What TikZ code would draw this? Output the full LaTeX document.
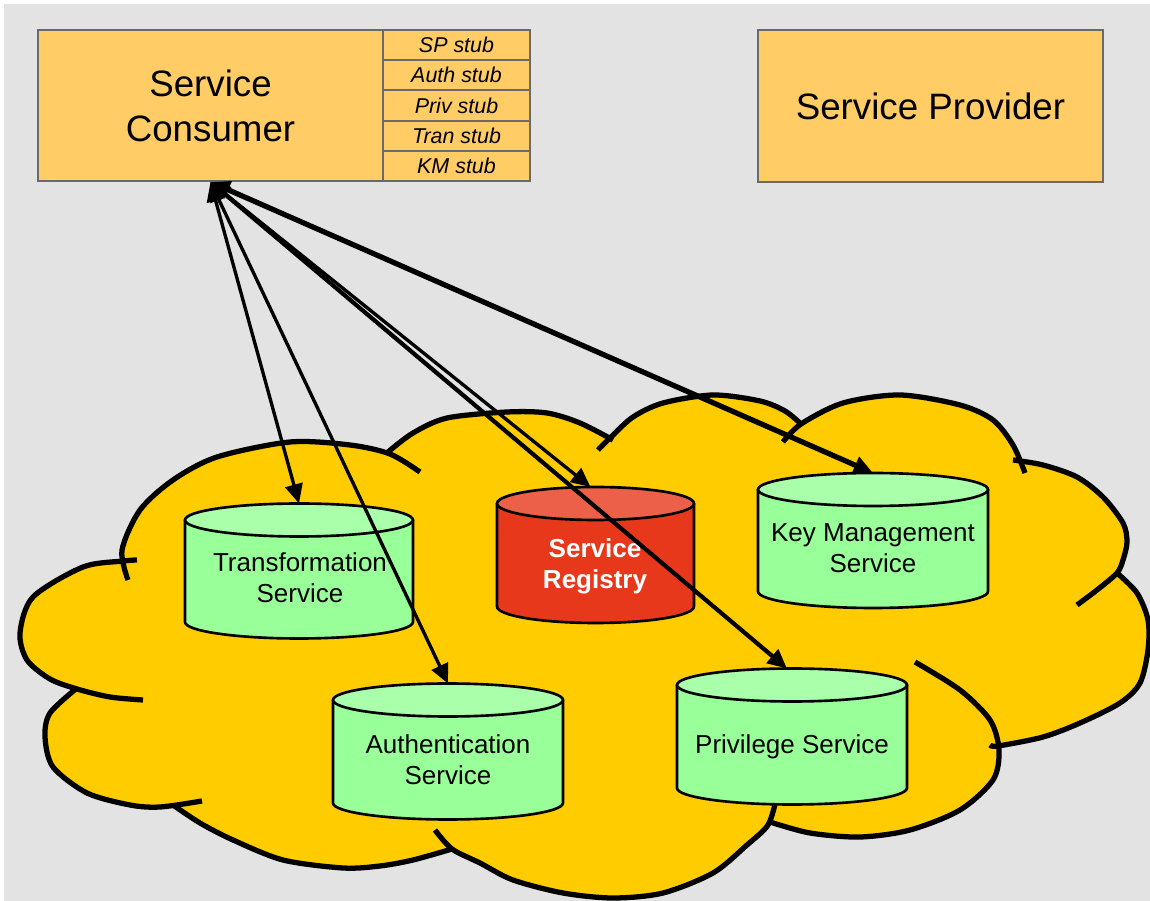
\documentclass[tikz,border=0pt]{standalone}
\usepackage{fontspec}
\setmainfont{Liberation Sans}
\usetikzlibrary{arrows.meta}
\definecolor{bggray}{HTML}{E3E3E3}
\definecolor{boxfill}{HTML}{FFCC66}
\definecolor{boxline}{HTML}{6A6A6A}
\definecolor{cloudfill}{HTML}{FFCC00}
\definecolor{greenbody}{HTML}{99FF99}
\definecolor{greentop}{HTML}{AAFFAA}
\definecolor{redbody}{HTML}{E8381C}
\definecolor{redtop}{HTML}{EC604A}
\newcommand\drawcyl[8]{%
  \fill[#7] ({#2-#5},#3) -- ({#2-#5},#4)
    arc[start angle=180,end angle=360,x radius=#5*0.5690pt,y radius=#6*0.5690pt]
    -- ({#2+#5},#3) -- cycle;
  \draw[cylline] ({#2-#5},#3) -- ({#2-#5},#4)
    arc[start angle=180,end angle=360,x radius=#5*0.5690pt,y radius=#6*0.5690pt]
    -- ({#2+#5},#3);
  \filldraw[fill=#8,cylline] (#2,#3) ellipse[x radius=#5*0.5690pt,y radius=#6*0.5690pt];
  \coordinate (#1-top) at (#2,{#3-#6});
}
\tikzset{
  mainbox/.style={draw=boxline,fill=boxfill,line width=1.2pt,inner sep=0pt,
    minimum width=6.9cm,align=center,font=\fontsize{20.9}{25.5}\selectfont},
  stubbox/.style={draw=boxline,fill=boxfill,line width=1.2pt,inner sep=0pt,
    minimum width=2.94cm,minimum height=0.604cm,font=\fontsize{12.2}{14}\selectfont\itshape},
  cylline/.style={line width=1.5pt,draw=black},
  cyltext/.style={align=center,inner sep=0pt,font=\fontsize{14.8}{17.8}\selectfont},
  cloudline/.style={line width=3pt,line cap=butt},
  conn/.style={draw=black,{Triangle[length=11pt,width=10pt]}-{Triangle[length=11pt,width=10pt]}},
}
\begin{document}
\begin{tikzpicture}[x=0.02cm,y=-0.02cm]
\useasboundingbox (0,0) rectangle (1150,901);
\fill[bggray] (4,4) rectangle (1150,901);

% boxes
\node[mainbox,minimum height=3.02cm] (cons) at (210.5,105.5) {Service\\Consumer};
\node[stubbox] (sp) at (456.5,45.1) {SP stub};
\node[stubbox] (auths) at (456.5,75.3) {Auth stub};
\node[stubbox] (privs) at (456.5,105.5) {Priv stub};
\node[stubbox] (trans) at (456.5,135.7) {Tran stub};
\node[stubbox] (kms) at (456.5,165.9) {KM stub};
\node[mainbox,minimum height=3.04cm] (prov) at (930.5,106) {Service Provider};

% cloud fill
\fill[cloudfill]
  plot[smooth] coordinates {(124,562) (122,548) (140,510) (173,480) (217,457) (290,442) (350,445) (388,452)}
  -- plot[smooth] coordinates {(388,452) (413,433) (447,418) (507,412) (547,413) (580,423) (611,437)}
  -- plot[smooth] coordinates {(611,437) (633,417) (663,403) (713,395) (760,401) (785,411) (801,424)}
  -- plot[smooth] coordinates {(801,424) (843,403) (900,395) (960,405) (993,420) (1013,445) (1019,460)}
  -- plot[smooth] coordinates {(1019,460) (1043,465) (1077,477) (1103,497) (1123,523) (1127,542) (1123,560) (1117,573)}
  -- plot[smooth] coordinates {(1117,573) (1137,593) (1148,620) (1148,650) (1140,683) (1120,703) (1080,723) (1043,737) (998,746)}
  -- plot[smooth] coordinates {(998,746) (993,780) (960,810) (910,830) (860,837) (810,833) (770,822)}
  -- plot[smooth] coordinates {(770,822) (747,845) (713,873) (663,893) (613,898) (563,893) (513,880) (480,863) (452,849)}
  -- plot[smooth] coordinates {(452,849) (413,860) (380,866) (343,868) (283,860) (233,840) (200,823) (173,805)}
  -- plot[smooth] coordinates {(173,805) (160,807) (130,805) (87,793) (53,767) (45,737) (50,713) (77,688)}
  -- plot[smooth] coordinates {(77,688) (50,679) (27,660) (20,633) (33,597) (83,567) (124,562)}
  -- cycle;
% cloud outlines
\draw[cloudline] plot[smooth] coordinates {(128,580) (122,550) (140,510) (173,480) (217,457) (290,442) (350,445) (390,454) (420,472)};
\draw[cloudline] plot[smooth] coordinates {(388,452) (413,433) (447,418) (507,412) (547,413) (580,423) (613,440)};
\draw[cloudline] plot[smooth] coordinates {(598,450) (611,437) (633,417) (663,403) (713,395) (760,401) (785,411) (801,424)};
\draw[cloudline] plot[smooth] coordinates {(783,442) (801,424) (843,403) (900,395) (960,405) (993,420) (1013,445) (1025,473)};
\draw[cloudline] plot[smooth] coordinates {(1013,460) (1043,465) (1077,477) (1103,497) (1123,523) (1127,542) (1123,560) (1117,573) (1097,590) (1077,605)};
\draw[cloudline] plot[smooth] coordinates {(1117,573) (1137,593) (1148,620) (1148,650) (1140,683) (1120,703) (1080,723) (1043,737) (998,746) (990,745)};
\draw[cloudline] plot[smooth] coordinates {(915,662) (960,690) (990,720) (999,750) (993,780) (960,810) (910,830) (860,837) (810,833) (770,822)};
\draw[cloudline] plot[smooth] coordinates {(776,800) (768,825) (747,845) (713,873) (663,893) (613,898) (563,893) (513,880) (480,863) (452,849) (435,830)};
\draw[cloudline] plot[smooth] coordinates {(452,849) (413,860) (380,866) (343,868) (283,860) (233,840) (200,823) (173,805)};
\draw[cloudline] plot[smooth] coordinates {(77,688) (50,713) (45,737) (53,767) (87,793) (130,805) (160,807) (202,801)};
\draw[cloudline] plot[smooth] coordinates {(137,560) (124,561) (83,567) (33,597) (20,633) (27,660) (50,679) (77,689) (110,697) (143,700)};

% cylinders
\drawcyl{tsvc}{299}{520}{622}{114}{16.5}{greenbody}{greentop}
\drawcyl{reg}{595.5}{503.5}{606.5}{98.5}{16.5}{redbody}{redtop}
\drawcyl{kmsvc}{873}{489.5}{591.5}{115}{16.5}{greenbody}{greentop}
\drawcyl{asvc}{448}{700}{803}{115}{16.5}{greenbody}{greentop}
\drawcyl{psvc}{792}{685}{788}{115}{16.5}{greenbody}{greentop}

\node[cyltext] (tsvclbl) at (300,578) {Transformation\\Service};
\node[cyltext,text=white,font=\fontsize{14.8}{17.8}\selectfont\bfseries] (reglbl) at (595,566) {Service\\Registry};
\node[cyltext] (kmlbl) at (873,548) {Key Management\\Service};
\node[cyltext] (alabel) at (448,760) {Authentication\\Service};
\node[cyltext] (plabel) at (792,747) {Privilege Service};

% connectors
\coordinate (regtip) at ([xshift=-5*0.5690pt]reg-top);
\coordinate (privtip) at ([xshift=-5*0.5690pt]psvc-top);
\draw[conn,line width=1.9pt] (cons.south) -- (tsvc-top);
\draw[conn,line width=1.9pt] (cons.south) -- (asvc-top);
\draw[conn,line width=1.9pt] (cons.south) -- (regtip);
\draw[conn,line width=2.4pt] (cons.south) -- (privtip);
\draw[conn,line width=3pt] (cons.south) -- (kmsvc-top);
\end{tikzpicture}
\end{document}
